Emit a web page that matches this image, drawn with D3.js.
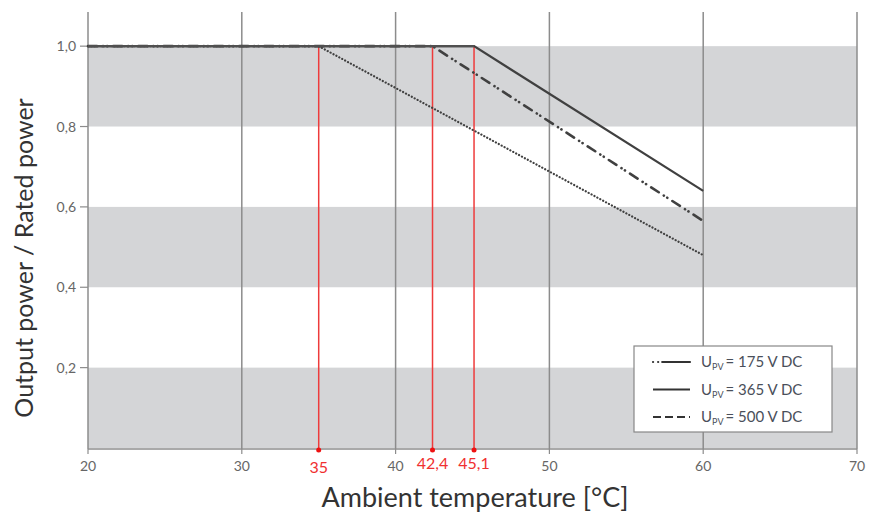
<!DOCTYPE html>
<html>
<head>
<meta charset="utf-8">
<script src="https://cdn.jsdelivr.net/npm/d3@7"></script>
<style>
body { margin: 0; background: #fff; }
svg { display: block; font-family: Lato, "Open Sans", sans-serif; }
</style>
</head>
<body>
<div id="io"></div>
<script>
// values
const tempTicks = [20, 30, 40, 50, 60, 70];
const powerTicks = [0.2, 0.4, 0.6, 0.8, 1.0];
const bands = [[0, 0.2], [0.4, 0.6], [0.8, 1.0]];
const markers = [35, 42.4, 45.1];
const markerLabels = ['35', '42,4', '45,1'];

const temps175 = [20, 42.4, 60];
const power175 = [1.0, 1.0, 0.565];
const temps365 = [20, 45.1, 60];
const power365 = [1.0, 1.0, 0.64];
const temps500 = [20, 35, 60];
const power500 = [1.0, 1.0, 0.48];

const legendLabels = ['= 175 V DC', '= 365 V DC', '= 500 V DC'];

const W = 877, H = 517;
const svg = d3.select('#io').append('svg').attr('width', W).attr('height', H);

const x = d3.scaleLinear().domain([20, 70]).range([88, 857]);
const y = d3.scaleLinear().domain([0, 1.085]).range([448, 12]);

// gray bands
svg.selectAll('.band').data(bands).enter().append('rect')
  .attr('x', x(20)).attr('width', x(70) - x(20))
  .attr('y', d => y(d[1])).attr('height', d => y(d[0]) - y(d[1]))
  .style('fill', '#d4d5d7');

// vertical grid lines
svg.selectAll('.vgrid').data(tempTicks).enter().append('line')
  .attr('x1', d => x(d)).attr('x2', d => x(d))
  .attr('y1', y(1.085)).attr('y2', y(0) + 1)
  .style('stroke', '#8c8c8c').style('stroke-width', 1.5);

// bottom axis line
svg.append('line')
  .attr('x1', x(20)).attr('x2', x(70)).attr('y1', y(0) + 1).attr('y2', y(0) + 1)
  .style('stroke', '#8c8c8c').style('stroke-width', 1.5);

// ticks x
svg.selectAll('.xtick').data(tempTicks).enter().append('line')
  .attr('x1', d => x(d)).attr('x2', d => x(d))
  .attr('y1', y(0) + 1).attr('y2', y(0) + 6)
  .style('stroke', '#8c8c8c').style('stroke-width', 1.2);
svg.selectAll('.xlab').data(tempTicks).enter().append('text')
  .attr('x', d => x(d)).attr('y', 471)
  .attr('text-anchor', 'middle')
  .style('font-size', '14px').style('fill', '#666')
  .text(d => d);

// ticks y
svg.selectAll('.ytick').data(powerTicks).enter().append('line')
  .attr('x1', x(20) - 8).attr('x2', x(20))
  .attr('y1', d => y(d)).attr('y2', d => y(d))
  .style('stroke', '#8c8c8c').style('stroke-width', 1.2);
svg.selectAll('.ylab').data(powerTicks).enter().append('text')
  .attr('x', x(20) - 12).attr('y', d => y(d) + 5)
  .attr('text-anchor', 'end')
  .style('font-size', '14px').style('fill', '#666')
  .text(d => d3.format('.1f')(d).replace('.', ','));

// red marker lines
svg.selectAll('.mark').data(markers).enter().append('line')
  .attr('x1', d => x(d)).attr('x2', d => x(d))
  .attr('y1', y(1.0)).attr('y2', y(0) + 1)
  .style('stroke', '#ee3b3b').style('stroke-width', 1.5);
svg.selectAll('.markdot').data(markers).enter().append('circle')
  .attr('cx', d => x(d)).attr('cy', y(0) + 2).attr('r', 2.5)
  .style('fill', '#e11');
svg.selectAll('.marklab').data(markers).enter().append('text')
  .attr('x', d => x(d)).attr('y', (d, i) => i == 0 ? 473 : 469)
  .attr('text-anchor', 'middle')
  .style('font-size', '16px').style('fill', '#f03030')
  .text((d, i) => markerLabels[i]);

// curves
const line = d3.line().x(d => x(d[0])).y(d => y(d[1]));
const curves = [
  { pts: d3.zip(temps500, power500), dash: '0.1,3.2', width: 2.2, cap: 'round' },
  { pts: d3.zip(temps175, power175), dash: '9,6,0.1,4,0.1,6', width: 2.6, cap: 'round' },
  { pts: d3.zip(temps365, power365), dash: null, width: 2.2, cap: 'butt' }
];
svg.selectAll('.curve').data(curves).enter().append('path')
  .attr('d', d => line(d.pts))
  .style('fill', 'none')
  .style('stroke', '#404040')
  .style('stroke-width', d => d.width)
  .style('stroke-linecap', d => d.cap)
  .style('stroke-dasharray', d => d.dash);
// flat part at 1,0 drawn solid on top
svg.append('path')
  .attr('d', line([[20, 1.0], [45.1, 1.0]]))
  .style('fill', 'none').style('stroke', '#505050').style('stroke-width', 2.4);

// legend
const lg = svg.append('g').attr('transform', 'translate(634,346)');
lg.append('rect').attr('width', 198).attr('height', 86)
  .style('fill', '#fff').style('stroke', '#888').style('stroke-width', 1.2);
const legendDash = [['0.1,5,0.1,4,40,0', 'round'], [null, 'butt'], ['8,4', 'butt']];
legendLabels.forEach((lab, i) => {
  const yy = 16 + i * 27.5;
  lg.append('line').attr('x1', 19).attr('x2', 56).attr('y1', yy).attr('y2', yy)
    .style('stroke', '#333').style('stroke-width', 2.2)
    .style('stroke-dasharray', legendDash[i][0])
    .style('stroke-linecap', legendDash[i][1]);
  const t = lg.append('text').attr('x', 67).attr('y', yy + 5)
    .style('font-size', '15px').style('fill', '#4a4f5a');
  t.append('tspan').text('U');
  t.append('tspan').attr('dy', 3).style('font-size', '9px').text('PV');
  t.append('tspan').attr('dy', -3).attr('dx', 2).text(lab);
});

// axis titles
svg.append('text')
  .attr('transform', 'translate(33,' + 258 + ') rotate(-90)')
  .attr('text-anchor', 'middle')
  .style('font-size', '25px').style('fill', '#333')
  .text('Output power / Rated power');
svg.append('text')
  .attr('x', 475).attr('y', 507)
  .attr('text-anchor', 'middle')
  .style('font-size', '27px').style('fill', '#333')
  .text('Ambient temperature [°C]');
</script>
</body>
</html>
